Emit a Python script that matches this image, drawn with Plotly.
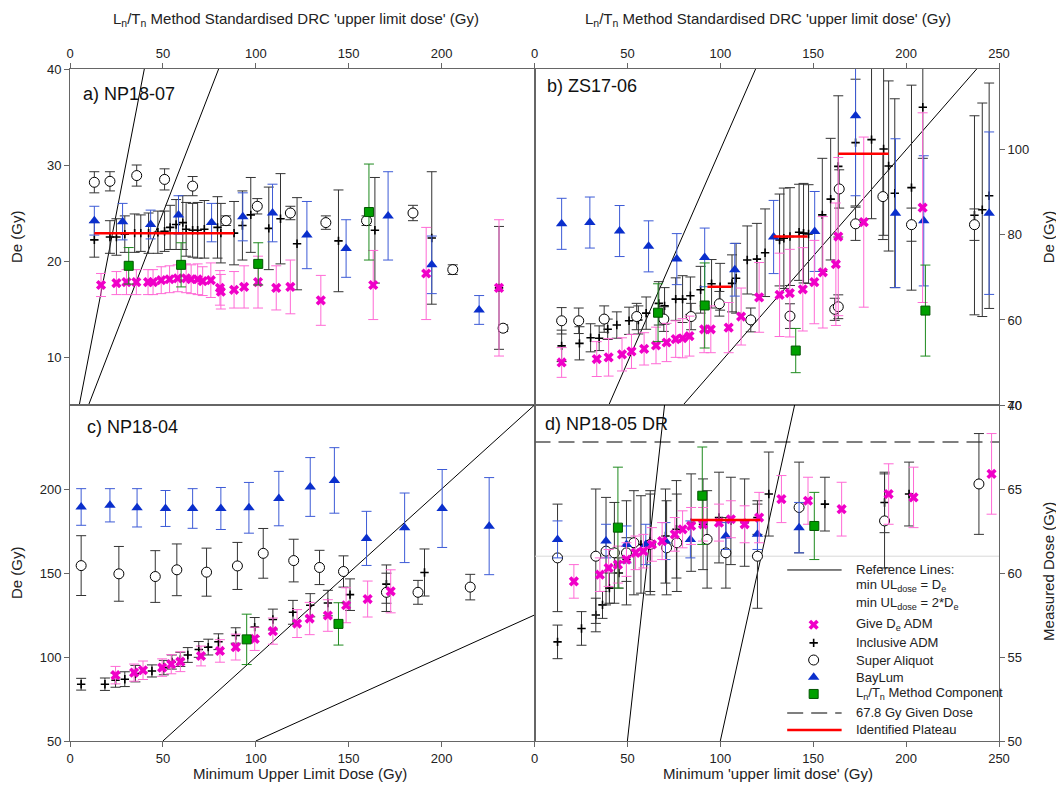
import plotly.graph_objects as go

FONT = "Arial, 'Liberation Sans', sans-serif"

# ---------------- axis ranges / ticks ----------------
X_RANGE = [0, 250]
A_YRANGE = [5, 40]
B_YRANGE = [40, 119]
C_YRANGE = [50, 250]
D_YRANGE = [50, 70]
X_TICKS_LEFT = [0, 50, 100, 150, 200]
X_TICKS_RIGHT = [0, 50, 100, 150, 200, 250]
A_YTICKS = [10, 20, 30, 40]
B_YTICKS = [40, 60, 80, 100]
C_YTICKS = [50, 100, 150, 200]
D_YTICKS = [50, 55, 60, 65, 70]

# ---------------- panel a) NP18-07 ----------------
A_INC_X = [13.1, 21.5, 25.0, 29.5, 34.8, 38.1, 42.3, 47.3, 50.9, 53.9, 57.1, 60.7, 62.5, 66.0, 68.7, 72.3, 79.4, 81.2, 88.3, 92.8, 97.3, 107.0, 113.3, 122.2, 144.5, 164.1, 194.7, 230.9]
A_INC_Y = [22.2, 22.5, 22.5, 22.8, 22.9, 22.9, 22.9, 23.0, 23.1, 23.5, 23.8, 24.0, 23.3, 23.2, 23.2, 23.3, 23.5, 22.9, 22.9, 23.7, 24.8, 23.4, 24.4, 21.8, 22.1, 23.2, 22.4, 17.2]
A_INC_E = [1.8, 1.7, 1.9, 1.9, 2.0, 1.9, 2.1, 2.2, 2.1, 2.3, 2.6, 2.8, 2.8, 2.8, 2.9, 3.0, 3.2, 3.1, 3.3, 3.6, 3.9, 4.3, 4.7, 4.8, 5.3, 5.5, 6.9, 6.4]

A_SA_X = [13.1, 21.5, 35.9, 50.9, 66.0, 84.0, 100.8, 118.6, 137.7, 159.6, 184.6, 206.0, 233.1]
A_SA_Y = [28.2, 28.3, 28.9, 28.5, 27.8, 24.2, 25.7, 25.0, 24.0, 24.2, 25.0, 19.1, 13.0]
A_SA_E = [1.1, 1.0, 1.1, 1.1, 1.0, 0.5, 0.8, 0.7, 0.7, 0.5, 0.8, 0.5, 0.35]

A_BAY_X = [13.1, 28.3, 43.4, 58.4, 76.2, 93.0, 109.0, 127.5, 148.6, 171.2, 194.7, 220.2]
A_BAY_Y = [24.2, 24.1, 23.8, 24.8, 24.0, 24.6, 25.0, 22.7, 21.3, 24.7, 19.6, 14.9]
A_BAY_E = [1.5, 1.9, 1.5, 2.0, 2.0, 2.5, 3.0, 3.5, 3.0, 4.6, 3.0, 1.5]

A_GIVE_X = [16.7, 25.0, 30.4, 35.7, 42.0, 44.7, 49.1, 53.6, 58.0, 62.5, 65.2, 68.7, 71.4, 75.8, 80.7, 81.2, 88.3, 93.7, 101.2, 111.0, 118.6, 135.0, 163.2, 191.7, 230.9]
A_GIVE_Y = [17.5, 17.7, 17.8, 17.8, 17.8, 17.8, 18.0, 18.1, 18.2, 18.2, 18.1, 18.1, 17.9, 18.0, 17.2, 16.8, 17.0, 17.3, 17.8, 17.2, 17.3, 15.9, 17.5, 18.7, 17.2]
A_GIVE_E = [1.2, 1.2, 1.3, 1.3, 1.3, 1.3, 1.4, 1.4, 1.4, 1.5, 1.5, 1.6, 1.5, 1.8, 1.8, 1.8, 1.9, 2.2, 2.7, 2.3, 2.8, 2.6, 3.6, 4.8, 7.1]

A_LN_X = [31.6, 59.8, 101.3, 160.9]
A_LN_Y = [19.5, 19.6, 19.7, 25.1]
A_LN_E = [1.9, 2.3, 2.2, 5.0]

A_PLAT_X0 = [13.1]
A_PLAT_X1 = [88.3]
A_PLAT_Y = [22.9]

# ---------------- panel b) ZS17-06 ----------------
B_INC_X = [14.6, 24.2, 30.2, 34.8, 39.4, 44.3, 50.9, 55.9, 60.1, 66.9, 70.0, 76.0, 79.7, 83.9, 89.4, 95.3, 99.9, 106.3, 108.5, 114.5, 119.7, 124.1, 131.9, 134.2, 137.5, 142.4, 144.8, 147.5, 154.9, 159.4, 163.5, 172.8, 181.4, 187.9, 190.6, 193.9, 202.9, 209.0, 236.8, 241.0, 244.7]
B_INC_Y = [53.9, 54.5, 55.8, 55.7, 57.8, 58.8, 59.8, 60.0, 61.6, 63.9, 63.3, 64.9, 64.9, 65.7, 67.1, 68.5, 67.8, 68.6, 69.8, 74.1, 74.3, 75.8, 78.8, 79.2, 79.6, 80.6, 80.4, 80.2, 84.7, 88.4, 96.1, 101.7, 102.4, 100.2, 96.2, 89.8, 91.1, 110.0, 84.6, 85.9, 89.2]
B_INC_E = [3.7, 3.9, 3.3, 2.9, 2.4, 3.1, 3.2, 3.3, 3.8, 5.1, 4.3, 5.0, 5.5, 4.4, 5.5, 5.7, 5.5, 6.7, 8.2, 8.0, 8.4, 10.3, 10.8, 11.8, 11.5, 11.3, 11.7, 11.6, 13.3, 14.3, 16.6, 14.9, 18.6, 20.3, 20.0, 22.2, 24.1, 12.0, 23.4, 25.1, 26.5]

B_SA_X = [14.6, 23.8, 37.5, 55.0, 69.6, 84.3, 99.5, 116.4, 137.5, 161.6, 163.5, 164.0, 172.8, 187.5, 202.9, 236.8]
B_SA_Y = [59.8, 59.8, 60.2, 60.8, 60.2, 60.8, 63.8, 60.0, 60.9, 62.5, 63.1, 90.8, 82.6, 89.0, 82.4, 82.4]
B_SA_E = [3.1, 3.0, 3.1, 3.1, 2.9, 3.1, 2.9, 2.8, 2.9, 2.6, 2.8, 4.5, 3.9, 10.1, 3.9, 3.7]

B_BAY_X = [14.6, 29.8, 45.8, 61.4, 76.6, 91.6, 107.8, 128.7, 150.8, 172.8, 194.3, 209.5, 244.7]
B_BAY_Y = [82.6, 82.9, 80.9, 77.3, 74.3, 74.7, 71.8, 79.5, 80.8, 108.0, 85.1, 83.3, 85.1]
B_BAY_E = [6.0, 6.0, 6.0, 6.0, 6.0, 6.9, 6.2, 8.6, 9.4, 18.8, 17.5, 15.3, 19.1]

B_GIVE_X = [14.6, 33.5, 39.9, 47.1, 52.2, 59.0, 65.4, 71.1, 76.0, 79.7, 83.4, 91.3, 94.9, 104.5, 111.2, 120.9, 131.9, 137.4, 144.4, 150.6, 155.2, 162.2, 163.5, 177.2, 208.9]
B_GIVE_Y = [50.0, 50.8, 51.2, 51.9, 52.6, 53.2, 54.0, 54.7, 55.5, 55.7, 56.2, 57.8, 57.8, 58.2, 60.8, 65.3, 65.9, 66.3, 67.2, 68.9, 71.2, 73.1, 79.6, 83.0, 86.4]
B_GIVE_E = [3.5, 4.1, 4.4, 3.9, 4.0, 3.8, 4.3, 4.5, 4.3, 4.6, 4.7, 5.5, 5.5, 5.9, 6.7, 8.2, 9.8, 10.3, 9.8, 9.8, 13.1, 14.4, 18.6, 20.0, 22.3]

B_LN_X = [66.5, 91.6, 140.6, 210.4]
B_LN_Y = [61.7, 63.4, 52.8, 62.2]
B_LN_E = [6.8, 10.0, 5.2, 10.7]

B_PLAT_X0 = [93.1, 128.7, 163.5]
B_PLAT_X1 = [105.9, 147.0, 190.6]
B_PLAT_Y = [67.8, 79.6, 99.1]

# ---------------- panel c) NP18-04 ----------------
C_INC_X = [6.0, 18.8, 24.5, 29.5, 35.2, 44.1, 50.5, 54.8, 59.4, 63.4, 69.3, 74.4, 79.9, 89.2, 99.4, 109.2, 120.0, 129.3, 138.8, 150.7, 170.3, 190.8]
C_INC_Y = [83.8, 83.8, 86.2, 86.8, 90.1, 91.7, 93.7, 97.0, 98.6, 101.2, 104.5, 105.9, 109.1, 112.8, 117.8, 122.3, 126.6, 130.8, 132.1, 137.1, 143.4, 150.3]
C_INC_E = [3.5, 3.7, 4.2, 4.4, 4.9, 3.6, 4.3, 4.2, 4.2, 4.4, 4.7, 4.7, 4.7, 4.6, 5.7, 6.2, 7.1, 6.9, 7.6, 9.4, 11.4, 14.0]

C_SA_X = [6.0, 26.3, 45.9, 57.5, 73.5, 90.1, 104.0, 120.4, 134.3, 147.2, 170.3, 187.3, 215.4]
C_SA_Y = [154.4, 149.5, 147.9, 151.9, 150.5, 154.2, 161.7, 157.4, 153.3, 150.9, 138.5, 138.5, 141.6]
C_SA_E = [17.8, 16.3, 15.4, 15.4, 14.3, 14.0, 14.8, 12.7, 10.2, 9.3, 11.4, 7.1, 7.6]

C_BAY_X = [6.0, 21.5, 36.1, 51.4, 66.0, 81.2, 96.3, 112.4, 129.3, 142.3, 159.6, 180.1, 200.3, 225.6]
C_BAY_Y = [189.3, 190.3, 188.8, 188.4, 188.4, 188.4, 188.8, 194.3, 201.2, 205.1, 170.6, 176.9, 188.4, 177.9]
C_BAY_E = [10.9, 9.9, 11.4, 10.7, 11.8, 12.5, 15.1, 16.2, 17.5, 19.5, 16.1, 20.7, 23.2, 28.9]

C_GIVE_X = [24.5, 34.5, 39.3, 49.6, 54.5, 59.4, 70.5, 80.7, 89.2, 99.4, 109.2, 122.2, 129.0, 138.8, 148.6, 160.2, 172.6]
C_GIVE_Y = [89.2, 90.7, 92.1, 93.7, 95.7, 97.2, 100.6, 103.6, 105.9, 110.8, 115.4, 119.9, 122.9, 124.7, 130.8, 134.5, 139.1]
C_GIVE_E = [5.2, 5.1, 5.5, 5.2, 5.7, 5.9, 5.9, 6.7, 7.7, 6.9, 7.8, 8.3, 9.6, 9.4, 10.4, 10.7, 12.8]

C_LN_X = [95.1, 144.5]
C_LN_Y = [110.5, 119.7]
C_LN_E = [15.0, 12.6]

# ---------------- panel d) NP18-05 DR ----------------
D_INC_X = [12.4, 25.3, 33.0, 36.6, 40.3, 45.4, 49.5, 57.3, 62.3, 70.5, 76.4, 84.3, 90.7, 99.3, 105.7, 113.1, 120.0, 126.1, 156.3, 188.4, 201.6]
D_INC_Y = [55.9, 56.7, 57.5, 58.1, 59.1, 60.0, 60.8, 61.7, 61.9, 62.2, 62.6, 63.0, 62.9, 63.3, 63.1, 63.0, 63.3, 64.7, 64.1, 64.2, 64.7]
D_INC_E = [1.0, 1.0, 1.0, 0.8, 0.9, 0.9, 1.3, 2.9, 3.0, 2.8, 2.9, 2.9, 2.7, 2.7, 2.6, 2.6, 1.0, 2.5, 1.6, 1.8, 1.9]

D_SA_X = [12.4, 33.0, 38.5, 43.0, 49.5, 53.5, 62.3, 71.1, 76.6, 92.9, 103.0, 120.0, 142.4, 188.4, 239.2]
D_SA_Y = [60.9, 61.0, 61.3, 61.2, 61.2, 61.8, 61.7, 61.5, 61.8, 62.0, 61.2, 61.0, 63.9, 63.1, 65.3]
D_SA_E = [3.2, 4.0, 3.2, 3.0, 3.1, 3.1, 3.0, 2.8, 2.9, 2.9, 2.1, 3.1, 2.7, 2.8, 3.0]

D_BAY_X = [12.4, 38.5, 49.5, 59.9, 70.5, 83.9, 103.0, 120.0, 142.4]
D_BAY_Y = [62.0, 61.9, 61.7, 61.7, 61.9, 62.0, 62.2, 62.3, 62.7]
D_BAY_E = [1.1, 1.0, 1.1, 1.2, 1.1, 1.1, 0.8, 0.9, 1.5]

D_GIVE_X = [21.2, 35.2, 39.9, 44.9, 49.5, 54.4, 58.6, 63.2, 68.7, 75.5, 79.7, 84.3, 90.7, 99.3, 105.7, 113.1, 120.9, 132.9, 147.2, 165.3, 190.6, 204.0, 246.0]
D_GIVE_Y = [59.5, 59.9, 60.3, 60.5, 60.8, 61.2, 61.3, 61.7, 61.9, 62.3, 62.6, 62.8, 62.9, 63.0, 63.2, 62.9, 63.3, 64.4, 64.3, 63.8, 64.7, 64.5, 65.9]
D_GIVE_E = [1.0, 1.0, 1.1, 1.1, 1.0, 1.0, 1.0, 1.0, 1.1, 1.0, 1.1, 1.1, 1.0, 1.1, 1.1, 1.1, 1.5, 1.4, 1.4, 1.6, 1.8, 1.8, 2.4]

D_LN_X = [44.9, 90.3, 150.6]
D_LN_Y = [62.7, 64.6, 62.8]
D_LN_E = [3.6, 2.9, 2.0]

D_PLAT_X0 = [84.3]
D_PLAT_X1 = [121.5]
D_PLAT_Y = [63.15]

GIVEN_DOSE = 67.8
D_GRAY_LINE = 61.0

# ---------------- styles ----------------
STYLES = {
    "inc": dict(marker=dict(symbol="cross-thin", size=6, color="black",
                            line=dict(color="black", width=1.6)), ecolor="#333333"),
    "sa": dict(marker=dict(symbol="circle", size=10, color="white",
                           line=dict(color="black", width=1)), ecolor="#333333"),
    "bay": dict(marker=dict(symbol="triangle-up", size=10, color="#0a2fcc",
                            line=dict(width=0)), ecolor="#3d5bd6"),
    "give": dict(marker=dict(symbol="x", size=9, color="#f000c8",
                             line=dict(width=0)), ecolor="#ff6ad5"),
    "ln": dict(marker=dict(symbol="square", size=9, color="#00a000",
                           line=dict(color="#005500", width=1)), ecolor="#1e8a1e"),
}

fig = go.Figure()


def add_series(xs, ys, es, ax, key):
    st = STYLES[key]
    fig.add_trace(go.Scatter(
        x=xs, y=ys, mode="markers", xaxis="x" + ax, yaxis="y" + ax,
        marker=st["marker"], showlegend=False, hoverinfo="skip",
        error_y=dict(type="data", array=es, color=st["ecolor"], thickness=1, width=5),
    ))


def add_ref_lines(ax, yr):
    y0, y1 = yr
    fig.add_trace(go.Scatter(
        x=[y0, y1, None, 2 * y0, 2 * y1], y=[y0, y1, None, y0, y1],
        mode="lines", xaxis="x" + ax, yaxis="y" + ax,
        line=dict(color="black", width=1), showlegend=False, hoverinfo="skip"))


def add_plateau(ax, x0s, x1s, ys):
    xs, yy = [], []
    for a, b, c in zip(x0s, x1s, ys):
        xs += [a, b, None]
        yy += [c, c, None]
    fig.add_trace(go.Scatter(
        x=xs, y=yy, mode="lines", xaxis="x" + ax, yaxis="y" + ax,
        line=dict(color="#ff0000", width=2.5), showlegend=False, hoverinfo="skip"))


panels = [
    ("", A_YRANGE, (A_INC_X, A_INC_Y, A_INC_E), (A_SA_X, A_SA_Y, A_SA_E), (A_BAY_X, A_BAY_Y, A_BAY_E),
     (A_GIVE_X, A_GIVE_Y, A_GIVE_E), (A_LN_X, A_LN_Y, A_LN_E), (A_PLAT_X0, A_PLAT_X1, A_PLAT_Y)),
    ("2", B_YRANGE, (B_INC_X, B_INC_Y, B_INC_E), (B_SA_X, B_SA_Y, B_SA_E), (B_BAY_X, B_BAY_Y, B_BAY_E),
     (B_GIVE_X, B_GIVE_Y, B_GIVE_E), (B_LN_X, B_LN_Y, B_LN_E), (B_PLAT_X0, B_PLAT_X1, B_PLAT_Y)),
    ("3", C_YRANGE, (C_INC_X, C_INC_Y, C_INC_E), (C_SA_X, C_SA_Y, C_SA_E), (C_BAY_X, C_BAY_Y, C_BAY_E),
     (C_GIVE_X, C_GIVE_Y, C_GIVE_E), (C_LN_X, C_LN_Y, C_LN_E), None),
    ("4", D_YRANGE, (D_INC_X, D_INC_Y, D_INC_E), (D_SA_X, D_SA_Y, D_SA_E), (D_BAY_X, D_BAY_Y, D_BAY_E),
     (D_GIVE_X, D_GIVE_Y, D_GIVE_E), (D_LN_X, D_LN_Y, D_LN_E), (D_PLAT_X0, D_PLAT_X1, D_PLAT_Y)),
]

for ax, yr, inc, sa, bay, give, ln, plat in panels:
    if ax == "4":
        fig.add_trace(go.Scatter(x=X_RANGE, y=[D_GRAY_LINE, D_GRAY_LINE], mode="lines",
                                 xaxis="x4", yaxis="y4", line=dict(color="#d8d8d8", width=1),
                                 showlegend=False, hoverinfo="skip"))
        fig.add_trace(go.Scatter(x=X_RANGE, y=[GIVEN_DOSE, GIVEN_DOSE], mode="lines",
                                 xaxis="x4", yaxis="y4",
                                 line=dict(color="#555555", width=1.5, dash="16px,8px"),
                                 showlegend=False, hoverinfo="skip"))
    add_ref_lines(ax, yr)
    add_series(*inc, ax, "inc")
    add_series(*sa, ax, "sa")
    add_series(*bay, ax, "bay")
    add_series(*give, ax, "give")
    add_series(*ln, ax, "ln")
    if plat is not None:
        add_plateau(ax, *plat)

# ---------------- legend (drawn in panel d) ----------------
LEG_ROWS = [0.2545, 0.232, 0.205, 0.173, 0.146, 0.1205, 0.095, 0.070, 0.0417, 0.0164]
LEG_TEXTS = ["Reference Lines:",
             "min UL<sub>dose</sub> = D<sub>e</sub>",
             "min UL<sub>dose</sub> = 2*D<sub>e</sub>",
             "Give D<sub>e</sub> ADM",
             "Inclusive ADM",
             "Super Aliquot",
             "BayLum",
             "L<sub>n</sub>/T<sub>n</sub> Method Component",
             "%.1f Gy Given Dose" % GIVEN_DOSE,
             "Identified Plateau"]
LEG_SYM_X = 0.8005
LEG_LINE_X = [0.772, 0.8306]
LEG_TEXT_X = 0.8435

for key, row in zip(["give", "inc", "sa", "bay", "ln"], LEG_ROWS[3:8]):
    fig.add_trace(go.Scatter(x=[LEG_SYM_X], y=[row], mode="markers", xaxis="x5", yaxis="y5",
                             marker=STYLES[key]["marker"], showlegend=False, hoverinfo="skip",
                             cliponaxis=False))

shapes = [
    dict(type="line", xref="paper", yref="paper", x0=LEG_LINE_X[0], x1=LEG_LINE_X[1],
         y0=LEG_ROWS[0], y1=LEG_ROWS[0], line=dict(color="black", width=1)),
    dict(type="line", xref="paper", yref="paper", x0=LEG_LINE_X[0], x1=LEG_LINE_X[1],
         y0=LEG_ROWS[8], y1=LEG_ROWS[8], line=dict(color="#555555", width=1.5, dash="16px,8px")),
    dict(type="line", xref="paper", yref="paper", x0=LEG_LINE_X[0], x1=LEG_LINE_X[1],
         y0=LEG_ROWS[9], y1=LEG_ROWS[9], line=dict(color="#ff0000", width=2.5)),
]

annotations = []
for t, row in zip(LEG_TEXTS, LEG_ROWS):
    annotations.append(dict(text=t, x=LEG_TEXT_X, y=row, xref="paper", yref="paper",
                            xanchor="left", yanchor="middle", showarrow=False,
                            font=dict(size=13, color="#222", family=FONT)))

# panel labels
for t, x, y in [("a) NP18-07", 0.012, 0.963), ("b) ZS17-06", 0.511, 0.975),
                ("c) NP18-04", 0.016, 0.468), ("d) NP18-05 DR", 0.509, 0.471)]:
    annotations.append(dict(text=t, x=x, y=y, xref="paper", yref="paper", xanchor="left",
                            yanchor="middle", showarrow=False,
                            font=dict(size=18, color="#111", family=FONT)))

# axis titles
TOP_TITLE = "L<sub>n</sub>/T<sub>n</sub> Method Standardised DRC 'upper limit dose' (Gy)"
for t, x, y, rot in [
    (TOP_TITLE, 0.243, 1.073, 0), (TOP_TITLE, 0.751, 1.073, 0),
    ("Minimum Upper Limit Dose (Gy)", 0.248, -0.048, 0),
    ("Minimum 'upper limit dose' (Gy)", 0.751, -0.048, 0),
    ("De (Gy)", -0.058, 0.75, -90), ("De (Gy)", -0.058, 0.25, -90),
    ("De (Gy)", 1.053, 0.75, -90), ("Measured Dose (Gy)", 1.053, 0.252, -90),
]:
    annotations.append(dict(text=t, x=x, y=y, xref="paper", yref="paper", xanchor="center",
                            yanchor="middle", showarrow=False, textangle=rot,
                            font=dict(size=15, color="#222", family=FONT)))

AX = dict(showline=True, linecolor="#666", linewidth=1, mirror=True, showgrid=False,
          zeroline=False, ticks="outside", ticklen=5, tickcolor="#666", fixedrange=True,
          tickfont=dict(size=13, color="#222", family=FONT), autorange=False)

# The page body keeps its default 8px margin, so the figure is 8px smaller than the window.
fig.update_layout(
    width=1056, height=791,
    margin=dict(l=62, r=65, t=61, b=58),
    paper_bgcolor="white", plot_bgcolor="rgba(0,0,0,0)",
    font=dict(family=FONT, color="#222"),
    showlegend=False,
    xaxis=dict(AX, domain=[0, 0.5], range=X_RANGE, side="top", anchor="y", tickvals=X_TICKS_LEFT),
    yaxis=dict(AX, domain=[0.5, 1], range=A_YRANGE, side="left", anchor="x", tickvals=A_YTICKS),
    xaxis2=dict(AX, domain=[0.5, 1], range=X_RANGE, side="top", anchor="y2", tickvals=X_TICKS_RIGHT),
    yaxis2=dict(AX, domain=[0.5, 1], range=B_YRANGE, side="right", anchor="x2", tickvals=B_YTICKS),
    xaxis3=dict(AX, domain=[0, 0.5], range=X_RANGE, side="bottom", anchor="y3", tickvals=X_TICKS_LEFT),
    yaxis3=dict(AX, domain=[0, 0.5], range=C_YRANGE, side="left", anchor="x3", tickvals=C_YTICKS),
    xaxis4=dict(AX, domain=[0.5, 1], range=X_RANGE, side="bottom", anchor="y4", tickvals=X_TICKS_RIGHT),
    yaxis4=dict(AX, domain=[0, 0.5], range=D_YRANGE, side="right", anchor="x4", tickvals=D_YTICKS),
    xaxis5=dict(domain=[0, 1], range=[0, 1], anchor="y5", visible=False, fixedrange=True),
    yaxis5=dict(domain=[0, 1], range=[0, 1], anchor="x5", visible=False, fixedrange=True),
    shapes=shapes,
    annotations=annotations,
)

fig.write_html("out.html")
